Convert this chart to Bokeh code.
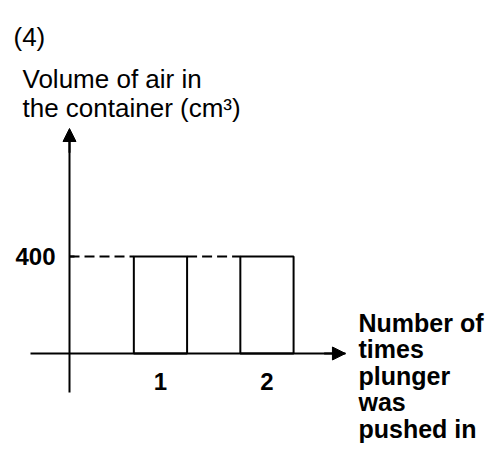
from bokeh.plotting import figure
from bokeh.models import (Range1d, LinearAxis, FixedTicker, Arrow, NormalHead,
                          Label, ColumnDataSource)
from bokeh.embed import file_html
from bokeh.resources import INLINE

# ---- data ----
times_pushed = [1, 2]
volume_cm3 = [400, 400]
x_ticks = [1, 2]
y_ticks = [400]
y_title_lines = ["Volume of air in", "the container (cm³)"]
x_title_lines = ["Number of", "times", "plunger", "was", "pushed in"]
panel_label = "(4)"

# ---- layout constants ----
W, H = 485, 449
FONT = "Liberation Sans"
bar_w = 0.5
axis_x = 0.146          # where the vertical axis crosses the horizontal one
x_axis_start, x_axis_end = -0.22, 2.737
y_axis_start, y_axis_end = -161, 928

p = figure(width=W, height=H, x_range=Range1d(-0.502, 4.052),
           y_range=Range1d(-396, 1456), output_backend="svg",
           toolbar_location=None, min_border=0,
           x_axis_type=None, y_axis_type=None)
p.outline_line_color = None
p.background_fill_color = "white"
p.border_fill_color = "white"

# horizontal axis
xaxis = LinearAxis(fixed_location=0, bounds=(x_axis_start, x_axis_end),
                   ticker=FixedTicker(ticks=x_ticks))
xaxis.axis_line_width = 2
xaxis.axis_line_color = "black"
xaxis.major_tick_in = 0
xaxis.major_tick_out = 0
xaxis.minor_tick_in = 0
xaxis.minor_tick_out = 0
xaxis.major_label_standoff = 20
xaxis.major_label_text_font = FONT
xaxis.major_label_text_font_size = "24px"
xaxis.major_label_text_font_style = "bold"
xaxis.major_label_text_color = "black"
p.add_layout(xaxis, "below")

# vertical axis
yaxis = LinearAxis(fixed_location=axis_x, bounds=(y_axis_start, y_axis_end - 40),
                   ticker=FixedTicker(ticks=y_ticks))
yaxis.axis_line_width = 2
yaxis.axis_line_color = "black"
yaxis.major_tick_in = 5
yaxis.major_tick_out = 0
yaxis.major_tick_line_width = 2
yaxis.minor_tick_in = 0
yaxis.minor_tick_out = 0
yaxis.major_label_standoff = 14
yaxis.major_label_text_font = FONT
yaxis.major_label_text_font_size = "24px"
yaxis.major_label_text_font_style = "bold"
yaxis.major_label_text_color = "black"
p.add_layout(yaxis, "left")

# arrow heads
p.add_layout(Arrow(end=NormalHead(size=13, fill_color="black", line_color="black"),
                   x_start=x_axis_end - 0.2, y_start=0, x_end=x_axis_end, y_end=0,
                   line_width=2, line_color="black"))
p.add_layout(Arrow(end=NormalHead(size=13, fill_color="black", line_color="black"),
                   x_start=axis_x, y_start=y_axis_end - 100, x_end=axis_x, y_end=y_axis_end,
                   line_width=2, line_color="black"))

# bars
src = ColumnDataSource(dict(x=times_pushed, top=volume_cm3))
p.vbar(x="x", top="top", bottom=0, width=bar_w, source=src,
       fill_color=None, line_color="black", line_width=2)

# dashed reference lines at the bar height
seg_x0 = [axis_x] + [times_pushed[i] + bar_w / 2 for i in range(len(times_pushed) - 1)]
seg_x1 = [times_pushed[i] - bar_w / 2 for i in range(len(times_pushed))]
seg_y = [volume_cm3[i] for i in range(len(times_pushed))]
p.segment(x0=seg_x0, y0=seg_y, x1=seg_x1, y1=seg_y,
          line_color="black", line_width=2, line_dash="10 5")

# texts (screen units: x from left, y from bottom of frame)
p.add_layout(Label(x=13, y=413, x_units="screen", y_units="screen", text=panel_label,
                   text_font=FONT, text_font_size="26px", text_color="black",
                   text_baseline="alphabetic"))
for i, line in enumerate(y_title_lines):
    p.add_layout(Label(x=22, y=371 - 29 * i, x_units="screen", y_units="screen",
                       text=line, text_font=FONT, text_font_size="26px",
                       text_color="black", text_baseline="alphabetic"))
for i, line in enumerate(x_title_lines):
    p.add_layout(Label(x=358, y=127 - 26.5 * i, x_units="screen", y_units="screen",
                       text=line, text_font=FONT, text_font_size="25px",
                       text_font_style="bold", text_color="black",
                       text_baseline="alphabetic"))

open("out.html", "w").write(file_html(p, INLINE))
